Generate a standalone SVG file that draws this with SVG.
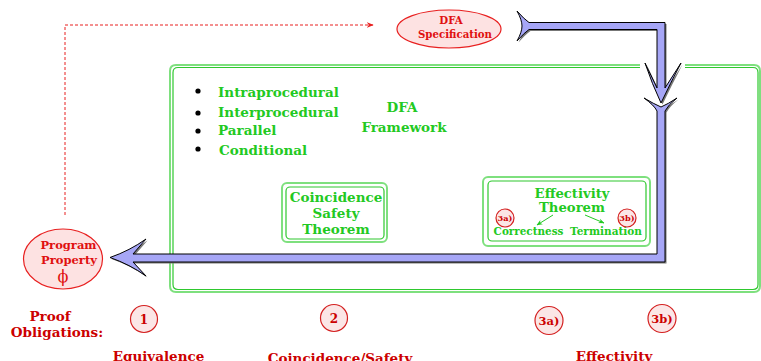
<svg xmlns="http://www.w3.org/2000/svg" width="761" height="361" viewBox="0 0 761 361">
  <style>
    text { font-family: "DejaVu Serif", "Liberation Serif", serif; font-weight: bold; }
    .g { fill: #22c922; }
    .r { fill: #e01010; }
    .dr { fill: #cc0000; }
    .thin { font-weight: normal; }
    .frameOut { fill: none; stroke: #7ee07e; stroke-width: 2; }
    .frameIn { fill: none; stroke: #2ec82e; stroke-width: 1.2; }
    .ell { fill: #fde2e2; stroke: #e82020; stroke-width: 1.2; }
    .num { fill: #fbe6e6; stroke: #d42020; stroke-width: 1.2; }
    .flow { fill: #a6a6f6; stroke: #000; stroke-width: 1; stroke-linejoin: miter; }
    .shadow { fill: #777; }
  </style>
  <defs>
    <marker id="redHead" viewBox="0 0 10 10" refX="9" refY="5" markerWidth="7" markerHeight="7" orient="auto">
      <path d="M0,1 L10,5 L0,9 L3,5 Z" fill="#e82020"/>
    </marker>
    <marker id="greenHead" viewBox="0 0 10 10" refX="9" refY="5" markerWidth="6" markerHeight="6" orient="auto">
      <path d="M0,1 L10,5 L0,9 L3,5 Z" fill="#22c922"/>
    </marker>
  </defs>

  <!-- framework frame (double rule, top edge opened for the incoming flow) -->
  <g id="framework">
    <path class="frameOut" d="M685,65 H754 Q760,65 760,71 V286 Q760,292 754,292 H176 Q170,292 170,286 V71 Q170,65 176,65 H640"/>
    <path class="frameIn" d="M685,67.5 H753 Q758,67.5 758,72.5 V284.5 Q758,289.5 753,289.5 H178 Q173,289.5 173,284.5 V72.5 Q173,67.5 178,67.5 H640"/>
    <circle cx="198" cy="91" r="2.6" fill="#000"/>
    <circle cx="198" cy="113" r="2.6" fill="#000"/>
    <circle cx="198" cy="131" r="2.6" fill="#000"/>
    <circle cx="198" cy="149" r="2.6" fill="#000"/>
    <text class="g" x="218" y="97" font-size="13.5">Intraprocedural</text>
    <text class="g" x="218" y="117" font-size="13.5">Interprocedural</text>
    <text class="g" x="218" y="135" font-size="13.5">Parallel</text>
    <text class="g" x="219" y="155" font-size="13.5">Conditional</text>
    <text class="g" x="402" y="112" font-size="13.5" text-anchor="middle">DFA</text>
    <text class="g" x="404" y="132" font-size="13.5" text-anchor="middle">Framework</text>
  </g>

  <!-- coincidence / safety theorem -->
  <g id="coincidence">
    <rect class="frameOut" x="282" y="183" width="105" height="59" rx="5" stroke-width="1.3"/>
    <rect class="frameIn" x="286" y="187" width="98" height="52" rx="4"/>
    <text class="g" x="336" y="202" font-size="13.5" text-anchor="middle">Coincidence</text>
    <text class="g" x="336" y="218" font-size="13.5" text-anchor="middle">Safety</text>
    <text class="g" x="336" y="234" font-size="13.5" text-anchor="middle">Theorem</text>
  </g>

  <!-- effectivity theorem -->
  <g id="effectivity">
    <rect class="frameOut" x="483" y="177" width="167" height="69" rx="5" stroke-width="1.3"/>
    <rect class="frameIn" x="488" y="181" width="158" height="60" rx="4"/>
    <text class="g" x="572" y="198" font-size="13.2" text-anchor="middle">Effectivity</text>
    <text class="g" x="572" y="212" font-size="13.2" text-anchor="middle">Theorem</text>
    <text class="g" x="528.5" y="235" font-size="10.4" text-anchor="middle">Correctness</text>
    <text class="g" x="606" y="235" font-size="10.5" text-anchor="middle">Termination</text>
    <line x1="553" y1="215" x2="537" y2="225" stroke="#22c922" stroke-width="1" marker-end="url(#greenHead)"/>
    <line x1="585" y1="215" x2="604" y2="223" stroke="#22c922" stroke-width="1" marker-end="url(#greenHead)"/>
    <circle class="num" cx="505" cy="218" r="9"/>
    <text class="dr" x="505" y="221" font-size="8.2" text-anchor="middle">3a)</text>
    <circle class="num" cx="627" cy="218" r="9"/>
    <text class="dr" x="627" y="221" font-size="8.2" text-anchor="middle">3b)</text>
  </g>

  <!-- DFA specification -->
  <g id="dfa-spec">
    <ellipse class="ell" cx="449" cy="29" rx="52" ry="19"/>
    <text class="r" x="451" y="24" font-size="10.2" text-anchor="middle">DFA</text>
    <text class="r" x="455" y="38" font-size="10.2" text-anchor="middle">Specification</text>
  </g>

  <!-- program property -->
  <g id="program-property">
    <ellipse class="ell" cx="63" cy="259" rx="39.5" ry="30"/>
    <text class="r" x="68.5" y="249" font-size="11.5" text-anchor="middle">Program</text>
    <text class="r" x="69" y="264" font-size="11.5" text-anchor="middle">Property</text>
    <text class="r thin" x="63" y="282" font-size="16" text-anchor="middle">ϕ</text>
  </g>

  <!-- proof obligations -->
  <g id="obligations">
    <text class="dr" x="50" y="321" font-size="13.5" text-anchor="middle">Proof</text>
    <text class="dr" x="57" y="336.5" font-size="13.5" text-anchor="middle">Obligations:</text>
  </g>
  <g id="ob-1">
    <circle class="num" cx="144" cy="319" r="13.5"/>
    <text class="dr" x="144" y="323.5" font-size="12" text-anchor="middle">1</text>
    <text class="dr" x="158.5" y="360.5" font-size="13.5" text-anchor="middle">Equivalence</text>
  </g>
  <g id="ob-2">
    <circle class="num" cx="334" cy="318" r="13.5"/>
    <text class="dr" x="334" y="322.5" font-size="12" text-anchor="middle">2</text>
    <text class="dr" x="340" y="363" font-size="13.5" text-anchor="middle">Coincidence/Safety</text>
  </g>
  <g id="ob-3">
    <circle class="num" cx="549" cy="320.5" r="14"/>
    <text class="dr" x="549" y="325" font-size="11.5" text-anchor="middle">3a)</text>
    <circle class="num" cx="662" cy="318.5" r="14"/>
    <text class="dr" x="662" y="323" font-size="11.5" text-anchor="middle">3b)</text>
    <text class="dr" x="614" y="360.5" font-size="13.5" text-anchor="middle">Effectivity</text>
  </g>

  <!-- connectors -->
  <g id="connectors">
    <polyline points="65,215 65,25 373,25" fill="none" stroke="#e82020" stroke-width="1" stroke-dasharray="3,2" marker-end="url(#redHead)"/>

    <!-- specification into the framework -->
    <g transform="translate(1.5,1.5)">
      <path class="shadow" d="M517,11 Q524,19 529,22.5 L665,22.5 L665,88 L681,63 Q670,84 661,103 Q652,84 645,63 L657,88 L657,29.5 L529,29.5 Q524,33 517,41 Q522,32 522,26 Q522,20 517,11 Z"/>
    </g>
    <path class="flow" d="M517,11 Q524,19 529,22.5 L665,22.5 L665,88 L681,63 Q670,84 661,103 Q652,84 645,63 L657,88 L657,29.5 L529,29.5 Q524,33 517,41 Q522,32 522,26 Q522,20 517,11 Z"/>

    <!-- framework back to the program property -->
    <g transform="translate(1.5,1.5)">
      <path class="shadow" d="M644,98 Q654,104 661,107 Q668,104 677,98 Q668,105 665,111 L665,262 L133,262 L146,276 Q130,264.5 110,257.5 Q130,250.5 146,239 L133,254 L657,254 L657,111 Q654,105 644,98 Z"/>
    </g>
    <path class="flow" d="M644,98 Q654,104 661,107 Q668,104 677,98 Q668,105 665,111 L665,262 L133,262 L146,276 Q130,264.5 110,257.5 Q130,250.5 146,239 L133,254 L657,254 L657,111 Q654,105 644,98 Z"/>
  </g>
</svg>
